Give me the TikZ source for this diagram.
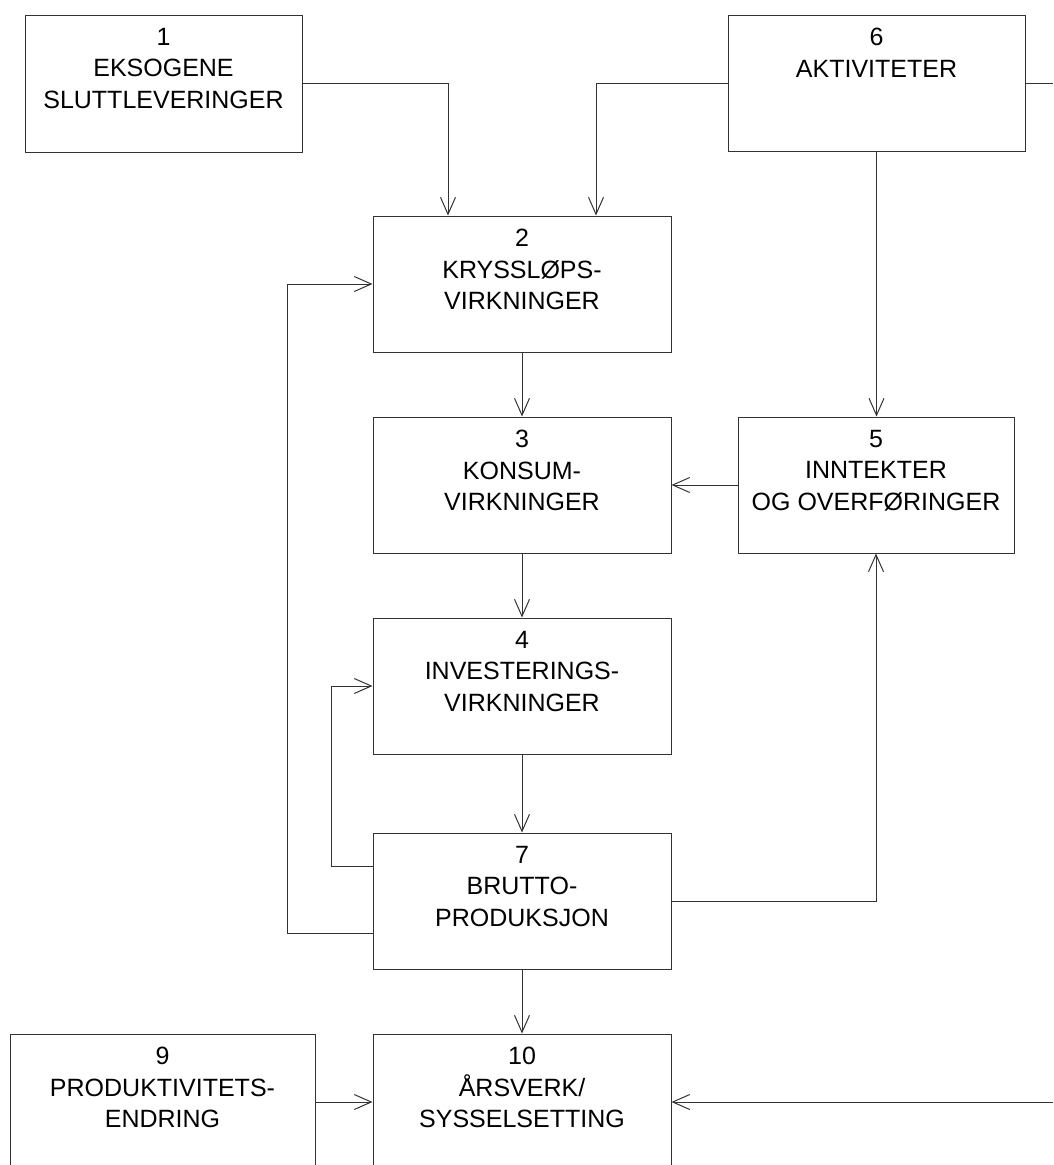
\documentclass[tikz,border=0pt]{standalone}
\usepackage{fontspec}
\setmainfont{Liberation Sans}
\usetikzlibrary{arrows.meta, calc}

\begin{document}
\begin{tikzpicture}[x=1pt, y=-1pt,
	boks/.style={draw=black!80, line width=1pt, minimum width=298pt, minimum height=136pt, inner sep=0pt},
	tekst/.style={anchor=north, inner sep=0pt, align=center, font=\fontsize{25}{31.5}\selectfont, yshift=-13.5pt},
	pil/.style={draw=black!80, line width=1pt, -{Straight Barb[length=17pt,width=15pt]}},
	linje/.style={draw=black!80, line width=1pt}]
	\useasboundingbox (0,0) rectangle (1053,1165);
	\clip (0,0) rectangle (1053,1165);

	% boksene
	\node[boks, minimum width=277pt, minimum height=137pt] (b1) at (163.5,83.5) {};
	\node[boks, minimum width=297pt] (b6) at (876.5,83) {};
	\node[boks] (b2) at (522,284) {};
	\node[boks] (b3) at (522,485) {};
	\node[boks, minimum width=276pt] (b5) at (876,485) {};
	\node[boks] (b4) at (522,686) {};
	\node[boks] (b7) at (522,901) {};
	\node[boks, minimum height=160pt] (b10) at (522,1114) {};
	\node[boks, minimum width=305pt, minimum height=160pt] (b9) at (162.5,1114) {};

	% tekstene
	\node[tekst] (t1) at (b1.north) {1\\EKSOGENE\\SLUTTLEVERINGER};
	\node[tekst] (t6) at (b6.north) {6\\AKTIVITETER};
	\node[tekst] (t2) at (b2.north) {2\\KRYSSLØPS-\\VIRKNINGER};
	\node[tekst] (t3) at (b3.north) {3\\KONSUM-\\VIRKNINGER};
	\node[tekst] (t5) at (b5.north) {5\\INNTEKTER\\OG OVERFØRINGER};
	\node[tekst] (t4) at (b4.north) {4\\INVESTERINGS-\\VIRKNINGER};
	\node[tekst] (t7) at (b7.north) {7\\BRUTTO-\\PRODUKSJON};
	\node[tekst] (t10) at (b10.north) {10\\ÅRSVERK/\\SYSSELSETTING};
	\node[tekst] (t9) at (b9.north) {9\\PRODUKTIVITETS-\\ENDRING};

	% frie ender
	\coordinate (h6) at (1053,83);
	\coordinate (h10) at (1053,1102);
	\coordinate (v4) at ($(b7.north west)+(0,34)$);
	\coordinate (v2) at ($(b7.north west)+(0,101)$);

	% pilene
	\draw[pil] ($(b1.north east)!0.5!(b1.south east)$) -| (448,0 |- b2.north);
	\draw[pil] (b6.west) -| (596,0 |- b2.north);
	\draw[linje] (b6.east) -- (h6);
	\draw[pil] (b6.south) -- (b6.south |- b5.north);
	\draw[pil] (b2) -- (b3);
	\draw[pil] (b5.west) -- (b3.east);
	\draw[pil] (b3) -- (b4);
	\draw[pil] (b4) -- (b7);
	\draw[pil] (v4) -| (331,0 |- b4.west) -- (b4.west);
	\draw[pil] (v2) -| (287,0 |- b2.west) -- (b2.west);
	\draw[pil] (b7.east) -| (b5.south);
	\draw[pil] (b7) -- (b10);
	\draw[pil] (b9.east |- h10) -- (b10.west |- h10);
	\draw[pil] (h10) -- (b10.east |- h10);
\end{tikzpicture}
\end{document}
